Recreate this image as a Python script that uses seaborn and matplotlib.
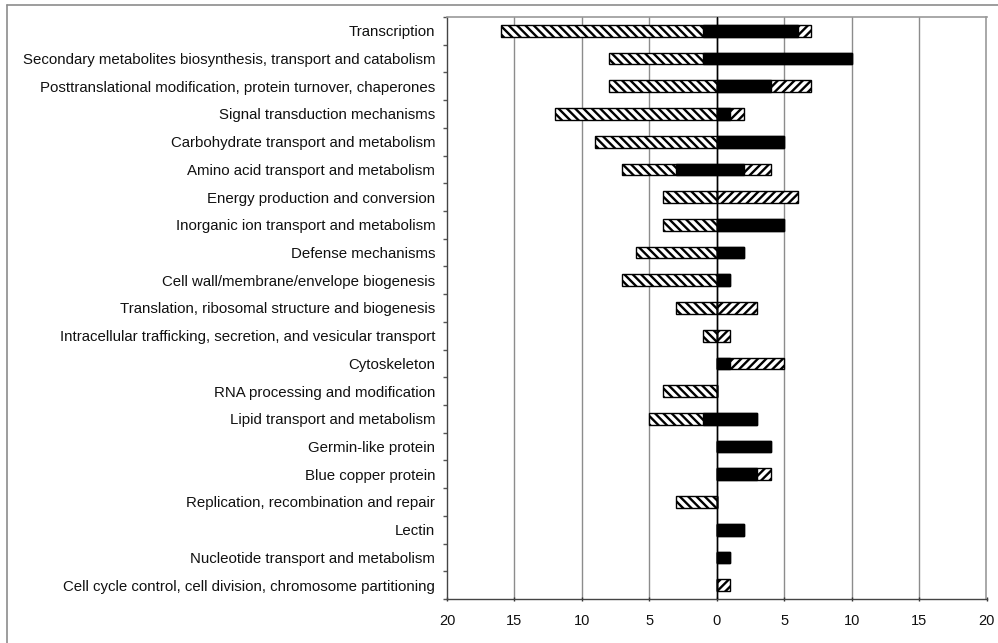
import matplotlib
matplotlib.use("Agg")
import matplotlib.pyplot as plt
import seaborn as sns
import pandas as pd
from matplotlib.lines import Line2D
from matplotlib.ticker import FixedLocator

sns.set_theme(style="white")
plt.rcParams["font.family"] = ["Liberation Sans", "DejaVu Sans"]
plt.rcParams["hatch.linewidth"] = 1.7
plt.rcParams["hatch.color"] = "black"

categories = [
    "Transcription",
    "Secondary metabolites biosynthesis, transport and catabolism",
    "Posttranslational modification, protein turnover, chaperones",
    "Signal transduction mechanisms",
    "Carbohydrate transport and metabolism",
    "Amino acid transport and metabolism",
    "Energy production and conversion",
    "Inorganic ion transport and metabolism",
    "Defense mechanisms",
    "Cell wall/membrane/envelope biogenesis",
    "Translation, ribosomal structure and biogenesis",
    "Intracellular trafficking, secretion, and vesicular transport",
    "Cytoskeleton",
    "RNA processing and modification",
    "Lipid transport and metabolism",
    "Germin-like protein",
    "Blue copper protein",
    "Replication, recombination and repair",
    "Lectin",
    "Nucleotide transport and metabolism",
    "Cell cycle control, cell division, chromosome partitioning",
]

# counts on the left (down) side: solid and hatched parts
down_solid = [1, 1, 0, 0, 0, 3, 0, 0, 0, 0, 0, 0, 0, 0, 1, 0, 0, 0, 0, 0, 0]
down_hatched = [15, 7, 8, 12, 9, 4, 4, 4, 6, 7, 3, 1, 0, 4, 4, 0, 0, 3, 0, 0, 0]
# counts on the right (up) side: solid and hatched parts
up_solid = [6, 10, 4, 1, 5, 2, 0, 5, 2, 1, 0, 0, 1, 0, 3, 4, 3, 0, 2, 1, 0]
up_hatched = [1, 0, 3, 1, 0, 2, 6, 0, 0, 0, 3, 1, 4, 0, 0, 0, 1, 0, 0, 0, 1]

tick_values = [-20, -15, -10, -5, 0, 5, 10, 15, 20]
tick_labels = ["20", "15", "10", "5", "0", "5", "10", "15", "20"]

df = pd.DataFrame({
    "category": categories,
    "down_total": [-(a + b) for a, b in zip(down_solid, down_hatched)],
    "down_solid": [-a for a in down_solid],
    "up_total": [a + b for a, b in zip(up_solid, up_hatched)],
    "up_solid": up_solid,
})

fig = plt.figure(figsize=(9.98, 6.43), dpi=100)
ax = fig.add_axes([447 / 998, 1 - 599 / 643, (986.5 - 447) / 998, (599 - 17) / 643])

# grid lines behind the bars
for v in tick_values[1:-1]:
    ax.axvline(v, color="black" if v == 0 else "#8c8c8c", lw=1.0, zorder=0.5)

bar_kw = dict(orient="h", order=categories, width=0.42, linewidth=1.0,
              edgecolor="black", ax=ax, zorder=2)
sns.barplot(data=df, x="down_total", y="category", color="white",
            hatch="\\\\\\\\", **bar_kw)
sns.barplot(data=df, x="up_total", y="category", color="white",
            hatch="////", **bar_kw)
sns.barplot(data=df, x="down_solid", y="category", color="black",
            saturation=1, **bar_kw)
sns.barplot(data=df, x="up_solid", y="category", color="black",
            saturation=1, **bar_kw)
for p in ax.patches:
    p.set_zorder(2)

ax.axvline(0, color="black", lw=1.0, zorder=3)

ax.set_xlim(-20, 20)
ax.set_ylim(len(categories) - 0.5, -0.5)
ax.set_xticks(tick_values)
ax.set_xticklabels(tick_labels, fontsize=10.5, color="#111111")
ax.set_xlabel("")
ax.set_ylabel("")
ax.tick_params(axis="y", which="major", length=0, pad=8.5, labelsize=10.8,
               labelcolor="#111111")
ax.yaxis.set_minor_locator(FixedLocator([i + 0.5 for i in range(-1, len(categories))]))
ax.tick_params(axis="y", which="minor", length=3, width=1, color="#555555",
               direction="out", left=True)
ax.tick_params(axis="x", which="major", length=3, width=1, color="#333333",
               direction="inout", bottom=True, pad=9)

for side in ["left", "bottom"]:
    ax.spines[side].set_color("#444444")
    ax.spines[side].set_linewidth(1.0)
for side in ["top", "right"]:
    ax.spines[side].set_color("#999999")
    ax.spines[side].set_linewidth(1.2)

# outer chart frame
fig.add_artist(Line2D([7 / 998, 1], [1 - 4.5 / 643, 1 - 4.5 / 643],
                      transform=fig.transFigure, color="#8c8c8c", lw=1.2))
fig.add_artist(Line2D([7 / 998, 7 / 998], [0, 1 - 4.5 / 643],
                      transform=fig.transFigure, color="#8c8c8c", lw=1.2))

fig.savefig("out.png", dpi=100, facecolor="white")
